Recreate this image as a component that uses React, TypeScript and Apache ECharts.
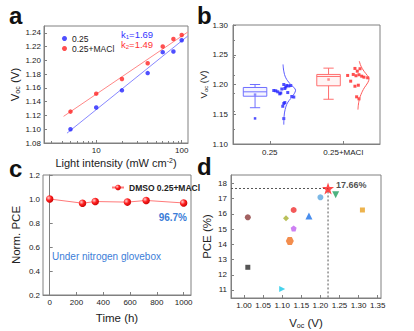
import React, { useEffect, useRef } from 'react';
import * as echarts from 'echarts';

// ---------- Panel a: Voc vs light intensity ----------
const intensity = [5, 10, 20, 40, 60, 80, 100];
const vocA025 = [1.1, 1.1315, 1.1565, 1.1816, 1.212, 1.213, 1.2294];
const vocAMacl = [1.1256, 1.1517, 1.173, 1.1958, 1.2203, 1.2311, 1.237];
const fitA025 = [[4.55, 1.0943], [118, 1.2355]];
const fitAMacl = [[4.15, 1.1187], [118, 1.2413]];
const aXTicks = [10, 100];
const aXMinorTicks = [3, 4, 5, 6, 7, 8, 9, 20, 30, 40, 50, 60, 70, 80, 90];
const aYTicks = [1.08, 1.1, 1.12, 1.14, 1.16, 1.18, 1.2, 1.22, 1.24];
const aSlopes = ['1.69', '1.49'];

// ---------- Panel b: Voc statistics ----------
const bGroups = ['0.25', '0.25+MACl'];
const bGroupPos = [1, 2];
const bYTicks = [1.1, 1.15, 1.2, 1.25, 1.3];
// [x, min, q1, median, q3, max]
const box025 = [0.8, 1.161, 1.1803, 1.1877, 1.195, 1.2];
const boxMacl = [1.8, 1.1752, 1.1978, 1.2135, 1.2169, 1.2275];
const mean025 = [0.8, 1.183];
const meanMacl = [1.8, 1.2084];
const outlier025 = [[0.8, 1.143]];
const pts025 = [
  [1.055, 1.1899], [1.082, 1.1894], [1.109, 1.1877], [1.136, 1.1843], [1.164, 1.1924],
  [1.191, 1.2], [1.205, 1.1933], [1.218, 1.1958], [1.232, 1.1983], [1.259, 1.1975],
  [1.286, 1.1983], [1.245, 1.1865], [1.3, 1.1798], [1.327, 1.1789], [1.191, 1.168],
  [1.177, 1.1634], [1.205, 1.1697], [1.191, 1.1427], [1.15, 1.1857],
];
const ptsMacl = [
  [2.06, 1.2152], [2.101, 1.2056], [2.136, 1.2169], [2.159, 1.227], [2.173, 1.2147],
  [2.191, 1.2224], [2.214, 1.2164], [2.228, 1.2265], [2.251, 1.214], [2.282, 1.2123],
  [2.332, 1.2113], [2.159, 1.1971], [2.205, 1.1988], [2.182, 1.1793], [2.214, 1.1759],
];
const curve025 = [
  [1.181, 1.2337], [1.191, 1.2224], [1.218, 1.2113], [1.273, 1.2017], [1.332, 1.1944],
  [1.351, 1.1904], [1.332, 1.1843], [1.286, 1.1764], [1.241, 1.1691], [1.209, 1.1578],
  [1.195, 1.1465], [1.191, 1.1325],
];
const curveMacl = [
  [2.218, 1.2393], [2.241, 1.2309], [2.282, 1.2224], [2.327, 1.2152], [2.351, 1.2101],
  [2.333, 1.2029], [2.286, 1.1944], [2.241, 1.1831], [2.213, 1.1718], [2.2, 1.1578],
];

// ---------- Panel c: stability ----------
const timeH = [0, 245, 340, 580, 720, 1000];
const normPce = [1.0, 0.965, 0.979, 0.974, 0.988, 0.967];
const cXTicks = [0, 200, 400, 600, 800, 1000];
const cYTicks = [0.2, 0.4, 0.6, 0.8, 1.0, 1.2];

// ---------- Panel d: PCE vs Voc literature ----------
const dVoc = [1.01, 1.01, 1.1, 1.11, 1.12, 1.13, 1.13, 1.17, 1.2, 1.22, 1.24, 1.31];
const dPce = [15.77, 12.49, 11.07, 15.7, 14.22, 16.25, 15.03, 15.85, 17.08, 17.66, 17.25, 16.25];
const dXTicks = [1.0, 1.05, 1.1, 1.15, 1.2, 1.25, 1.3, 1.35];
const dYTicks = [11, 12, 13, 14, 15, 16, 17, 18];

// ---------- styles ----------
const FONT = '"Liberation Sans", Arial, Helvetica, sans-serif';
const AXIS = '#808080';
const TXT = '#222';
const BLUE = '#2323ff';
const RED = '#ff2323';
const STAR = 'path://M50,0 L61.8,35.1 L98.5,35.1 L68.8,56.7 L79.4,91 L50,70 L20.6,91 L31.2,56.7 L1.5,35.1 L38.2,35.1 Z';
const HEX = 'path://M25,0 L75,0 L100,50 L75,100 L25,100 L0,50 Z';
const PENT = 'path://M50,0 L100,38 L81,100 L19,100 L0,38 Z';
const dColors = ['#8b3a3a', '#2b2b2b', '#18c8e8', '#a8b030', '#f07020', '#f03030', '#c060f0', '#1a70e8', '#5aa6e0', '#ff1a1a', '#20a060', '#e8a020'];
const dShapes = ['circle', 'rect', 'triangle', 'diamond', HEX, 'circle', PENT, 'triangle', 'circle', STAR, 'triangle', 'rect'];
const dSizes = [6, 5, 6, 6, 8, 6, 6, 7, 6, 12, 7, 5];
const dRot = [0, 0, -90, 0, 0, 0, 0, 0, 0, 0, 180, 0];

const D_XMIN = 0.966;
const D_XMAX = 1.3586;
const D_YMIN = 10.475;
const D_YMAX = 18.545;

function mkAxis(o: any) {
  return {
    type: o.type || 'value',
    gridIndex: o.grid,
    min: o.min,
    max: o.max,
    logBase: o.type === 'log' ? 10 : undefined,
    position: o.position,
    name: o.name,
    nameLocation: 'middle',
    nameGap: o.nameGap,
    nameTextStyle: { fontSize: o.nameSize ?? 11.5, color: o.nameColor ?? TXT, fontFamily: FONT, rich: o.rich },
    axisLine: { show: !o.hideLine, lineStyle: { color: AXIS, width: 1 } },
    axisTick: { show: true, inside: true, length: o.tickLen ?? 3, customValues: o.ticks, lineStyle: { color: AXIS, width: 1 } },
    minorTick: o.minor ? { show: true, splitNumber: o.minor, length: 2, lineStyle: { color: AXIS } } : { show: false },
    axisLabel: o.hideLabel
      ? { show: false }
      : { show: true, customValues: o.ticks, formatter: o.fmt, fontSize: 8, color: TXT, margin: o.labelMargin ?? 3, fontFamily: FONT },
    splitLine: { show: false },
  };
}

const subRich = (size: number) => ({
  m: { fontSize: size, color: TXT, fontFamily: FONT },
  s: { fontSize: size * 0.62, color: TXT, fontFamily: FONT, verticalAlign: 'bottom', padding: [size * 0.45, 0, 0, 0] },
});

function renderBox(params: any, api: any) {
  const x = api.value(0);
  const lo = api.coord([x, api.value(1)]);
  const q1 = api.coord([x, api.value(2)]);
  const med = api.coord([x, api.value(3)]);
  const q3 = api.coord([x, api.value(4)]);
  const hi = api.coord([x, api.value(5)]);
  const w = api.size([0.32, 0])[0];
  const cw = api.size([0.14, 0])[0];
  const color = api.visual('color');
  const st = { stroke: color, lineWidth: 1, fill: 'none' };
  return {
    type: 'group',
    children: [
      { type: 'line', shape: { x1: hi[0], y1: hi[1], x2: q3[0], y2: q3[1] }, style: st },
      { type: 'line', shape: { x1: lo[0], y1: lo[1], x2: q1[0], y2: q1[1] }, style: st },
      { type: 'line', shape: { x1: hi[0] - cw / 2, y1: hi[1], x2: hi[0] + cw / 2, y2: hi[1] }, style: st },
      { type: 'line', shape: { x1: lo[0] - cw / 2, y1: lo[1], x2: lo[0] + cw / 2, y2: lo[1] }, style: st },
      {
        type: 'rect',
        shape: { x: q3[0] - w / 2, y: q3[1], width: w, height: q1[1] - q3[1] },
        style: { stroke: color, lineWidth: 1, fill: color, opacity: 1, fillOpacity: 0.08 },
      },
      { type: 'line', shape: { x1: med[0] - w / 2, y1: med[1], x2: med[0] + w / 2, y2: med[1] }, style: st },
    ],
  };
}

function buildOption(): any {
  const best = dPce.indexOf(Math.max(...dPce));
  const ball = new echarts.graphic.RadialGradient(0.35, 0.35, 0.75, [
    { offset: 0, color: '#ffd0d0' },
    { offset: 0.45, color: '#ff2020' },
    { offset: 1, color: '#c00000' },
  ]);
  return {
    animation: false,
    backgroundColor: '#fff',
    textStyle: { fontFamily: FONT },
    grid: [
      { left: 44, top: 26, width: 144, height: 117, show: true, borderColor: AXIS, borderWidth: 1, backgroundColor: 'transparent' },
      { left: 233, top: 25, width: 147, height: 119, show: true, borderColor: AXIS, borderWidth: 1, backgroundColor: 'transparent' },
      { left: 43, top: 175, width: 148, height: 120, show: true, borderColor: AXIS, borderWidth: 1, backgroundColor: 'transparent' },
      { left: 231, top: 175, width: 150, height: 123, show: true, borderColor: AXIS, borderWidth: 1, backgroundColor: 'transparent' },
    ],
    xAxis: [
      mkAxis({
        type: 'log', grid: 0, min: 2.45, max: 118.5, position: 'bottom', ticks: aXTicks,
        fmt: (v: number) => String(Math.round(v)),
        name: 'Light intensity (mW cm{p|-2})', nameGap: 14, nameSize: 11,
        rich: { p: { fontSize: 7, color: TXT, fontFamily: FONT, verticalAlign: 'top', padding: [0, 0, 5, 0] } },
      }),
      mkAxis({ type: 'log', grid: 0, min: 2.45, max: 118.5, position: 'bottom', ticks: aXMinorTicks, tickLen: 2, hideLine: true, hideLabel: true }),
      mkAxis({ grid: 1, min: 0.5, max: 2.5, ticks: bGroupPos, fmt: (v: number) => bGroups[bGroupPos.indexOf(v)] ?? '', labelMargin: 4 }),
      mkAxis({ grid: 2, min: -50, max: 1055, ticks: cXTicks, fmt: (v: number) => String(v), name: 'Time (h)', nameGap: 17, nameSize: 11.5 }),
      mkAxis({
        grid: 3, min: D_XMIN, max: D_XMAX, ticks: dXTicks, fmt: (v: number) => v.toFixed(2),
        name: '{m|V}{s|oc}{m| (V)}', nameGap: 19, rich: subRich(11.5),
      }),
    ],
    yAxis: [
      mkAxis({
        grid: 0, min: 1.08, max: 1.25, ticks: aYTicks, fmt: (v: number) => v.toFixed(2),
        name: '{m|V}{s|oc}{m| (V)}', nameGap: 21, rich: subRich(11.5),
      }),
      mkAxis({
        grid: 1, min: 1.1, max: 1.3, ticks: bYTicks, fmt: (v: number) => v.toFixed(2), minor: 2, labelMargin: 5,
        name: '{m|V}{s|oc}{m| (V)}', nameGap: 24, rich: subRich(9.5),
      }),
      mkAxis({
        grid: 2, min: 0.2, max: 1.2, ticks: cYTicks, fmt: (v: number) => v.toFixed(1),
        name: 'Norm. PCE', nameGap: 21, nameSize: 11.5,
      }),
      mkAxis({
        grid: 3, min: D_YMIN, max: D_YMAX, ticks: dYTicks, fmt: (v: number) => String(v), labelMargin: 4,
        name: 'PCE (%)', nameGap: 18, nameSize: 11.5,
      }),
    ],
    legend: [
      {
        data: ['0.25', '0.25+MACl'], orient: 'vertical', left: 57, top: 29, itemWidth: 5, itemHeight: 5, itemGap: 1,
        textStyle: { fontSize: 8.5, color: TXT, fontFamily: FONT },
      },
      {
        data: ['DMSO 0.25+MACl'], left: 106, top: 178, itemWidth: 12, itemHeight: 7,
        textStyle: { fontSize: 8.5, fontWeight: 'bold', color: TXT, fontFamily: FONT },
      },
    ],
    graphic: [
      { type: 'text', x: 9, y: 27, style: { text: 'a', font: `bold 24px ${FONT}`, fill: '#111', textVerticalAlign: 'bottom' } },
      { type: 'text', x: 197, y: 27, style: { text: 'b', font: `bold 24px ${FONT}`, fill: '#111', textVerticalAlign: 'bottom' } },
      { type: 'text', x: 9, y: 180, style: { text: 'c', font: `bold 24px ${FONT}`, fill: '#111', textVerticalAlign: 'bottom' } },
      { type: 'text', x: 197, y: 178, style: { text: 'd', font: `bold 24px ${FONT}`, fill: '#111', textVerticalAlign: 'bottom' } },
      {
        type: 'text', x: 121, y: 34.5,
        style: {
          text: `{a|k}{s|1}{a|=${aSlopes[0]}}`, textVerticalAlign: 'middle',
          rich: { a: { fontSize: 9.5, fill: '#3333ff', fontFamily: FONT }, s: { fontSize: 6, fill: '#3333ff', fontFamily: FONT, verticalAlign: 'bottom', padding: [4, 0, 0, 0] } },
        },
      },
      {
        type: 'text', x: 121, y: 44.5,
        style: {
          text: `{a|k}{s|2}{a|=${aSlopes[1]}}`, textVerticalAlign: 'middle',
          rich: { a: { fontSize: 9.5, fill: '#ff3333', fontFamily: FONT }, s: { fontSize: 6, fill: '#ff3333', fontFamily: FONT, verticalAlign: 'bottom', padding: [4, 0, 0, 0] } },
        },
      },
      {
        type: 'text', x: 187, y: 217,
        style: { text: `${(normPce[normPce.length - 1] * 100).toFixed(1)}%`, font: `bold 10px ${FONT}`, fill: '#3b7dd8', textAlign: 'right', textVerticalAlign: 'middle' },
      },
      {
        type: 'text', x: 52, y: 256,
        style: { text: 'Under nitrogen glovebox', font: `10px ${FONT}`, fill: '#3b7dd8', textVerticalAlign: 'middle' },
      },
    ],
    series: [
      // panel a
      { type: 'line', name: 'fit-0.25', xAxisIndex: 0, yAxisIndex: 0, data: fitA025, showSymbol: false, lineStyle: { color: '#8888ff', width: 1 }, z: 1 },
      { type: 'line', name: 'fit-macl', xAxisIndex: 0, yAxisIndex: 0, data: fitAMacl, showSymbol: false, lineStyle: { color: '#ff8888', width: 1 }, z: 1 },
      {
        type: 'scatter', name: '0.25', xAxisIndex: 0, yAxisIndex: 0, symbol: 'circle', symbolSize: 4.5,
        itemStyle: { color: BLUE }, data: intensity.map((x, i) => [x, vocA025[i]]), z: 3,
      },
      {
        type: 'scatter', name: '0.25+MACl', xAxisIndex: 0, yAxisIndex: 0, symbol: 'circle', symbolSize: 4.5,
        itemStyle: { color: RED }, data: intensity.map((x, i) => [x, vocAMacl[i]]), z: 3,
      },
      // panel b
      {
        type: 'custom', name: 'box-0.25', xAxisIndex: 2, yAxisIndex: 1, renderItem: renderBox,
        itemStyle: { color: '#6f6fff' }, encode: { x: 0, y: [1, 2, 3, 4, 5] }, data: [box025],
      },
      {
        type: 'custom', name: 'box-macl', xAxisIndex: 2, yAxisIndex: 1, renderItem: renderBox,
        itemStyle: { color: '#ff6f6f' }, encode: { x: 0, y: [1, 2, 3, 4, 5] }, data: [boxMacl],
      },
      { type: 'scatter', name: 'mean-0.25', xAxisIndex: 2, yAxisIndex: 1, symbol: 'rect', symbolSize: 2.5, itemStyle: { color: '#6f6fff' }, data: [mean025] },
      { type: 'scatter', name: 'mean-macl', xAxisIndex: 2, yAxisIndex: 1, symbol: 'rect', symbolSize: 2.5, itemStyle: { color: '#ff6f6f' }, data: [meanMacl] },
      { type: 'scatter', name: 'out-0.25', xAxisIndex: 2, yAxisIndex: 1, symbol: 'rect', symbolSize: 2.5, itemStyle: { color: BLUE }, data: outlier025 },
      { type: 'scatter', name: 'pts-0.25', xAxisIndex: 2, yAxisIndex: 1, symbol: 'rect', symbolSize: 3, itemStyle: { color: BLUE }, data: pts025 },
      { type: 'scatter', name: 'pts-macl', xAxisIndex: 2, yAxisIndex: 1, symbol: 'rect', symbolSize: 3, itemStyle: { color: RED }, data: ptsMacl },
      { type: 'line', name: 'curve-0.25', xAxisIndex: 2, yAxisIndex: 1, data: curve025, smooth: 0.4, showSymbol: false, lineStyle: { color: '#5a5aff', width: 1 } },
      { type: 'line', name: 'curve-macl', xAxisIndex: 2, yAxisIndex: 1, data: curveMacl, smooth: 0.4, showSymbol: false, lineStyle: { color: '#ff5a5a', width: 1 } },
      // panel c
      {
        type: 'line', name: 'DMSO 0.25+MACl', xAxisIndex: 3, yAxisIndex: 2,
        data: timeH.map((t, i) => [t, normPce[i]]), symbol: 'circle', symbolSize: 7.5,
        lineStyle: { color: '#ff7a7a', width: 1 }, itemStyle: { color: ball },
      },
      // panel d
      {
        type: 'line', name: 'guide', xAxisIndex: 4, yAxisIndex: 3, showSymbol: false, z: 1,
        data: [[D_XMIN, dPce[best]], [dVoc[best], dPce[best]], [dVoc[best], D_YMIN]],
        lineStyle: { color: '#555', width: 1, type: [2, 2] },
      },
      {
        type: 'scatter', name: 'lit', xAxisIndex: 4, yAxisIndex: 3, z: 3,
        data: dVoc.map((v, i) => ({
          value: [v, dPce[i]],
          symbol: dShapes[i],
          symbolSize: dSizes[i],
          symbolRotate: dRot[i],
          itemStyle: { color: dColors[i] },
          label: i === best
            ? { show: true, position: 'right', distance: 2, offset: [0, -3], formatter: `${dPce[i].toFixed(2)}%`, fontSize: 9, fontWeight: 'bold', color: TXT, fontFamily: FONT }
            : { show: false },
        })),
      },
    ],
  };
}

export default function App() {
  const ref = useRef<HTMLDivElement>(null);
  useEffect(() => {
    const chart = echarts.init(ref.current as HTMLDivElement, null, { renderer: 'svg' });
    chart.setOption(buildOption());
    return () => chart.dispose();
  }, []);
  return (
    <div
      ref={ref}
      style={{ position: 'absolute', left: 0, top: 0, width: 414, height: 331, background: '#fff' }}
    />
  );
}
